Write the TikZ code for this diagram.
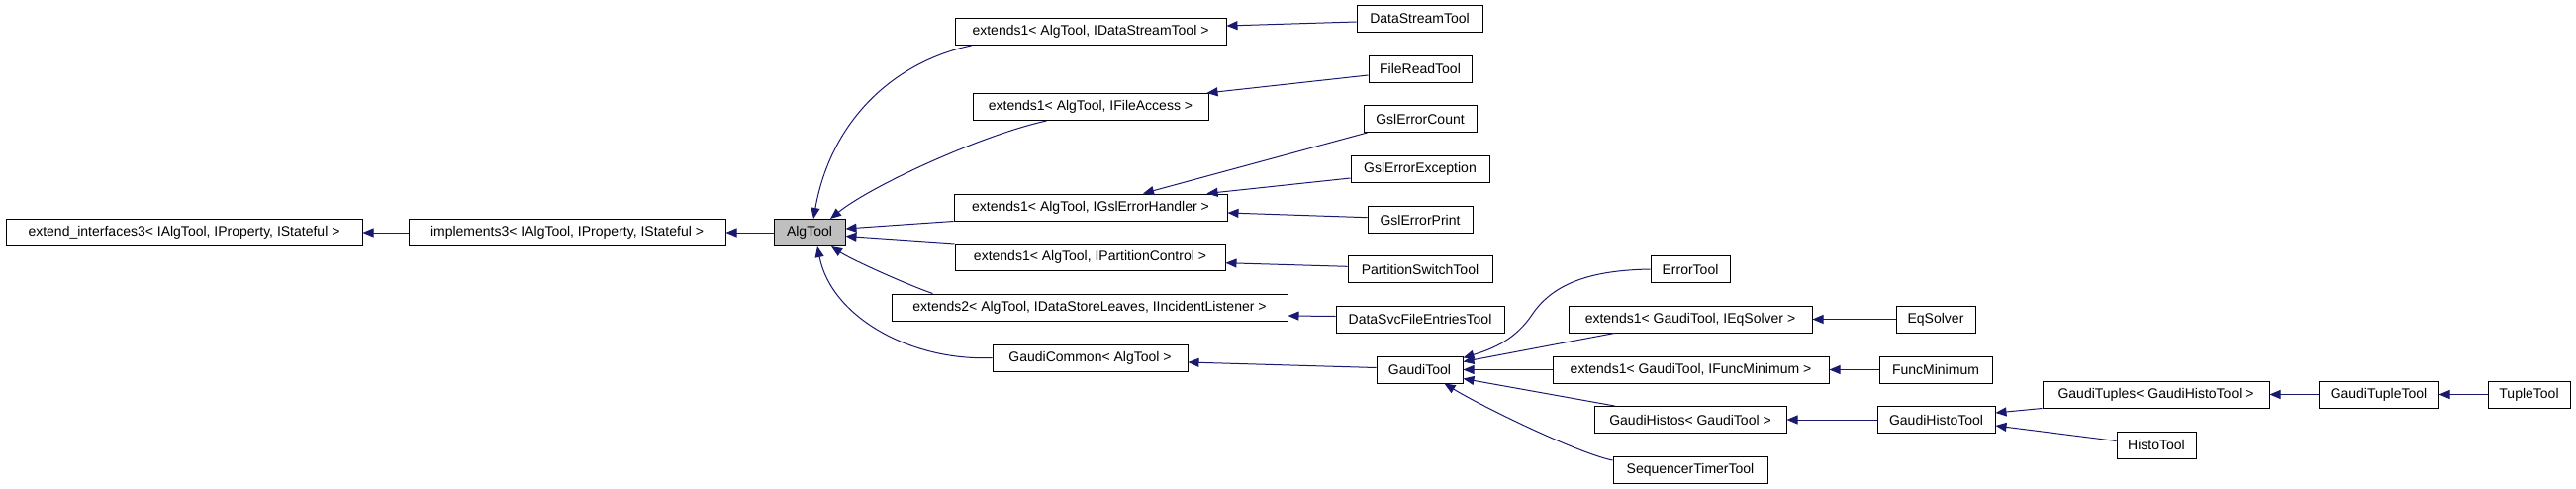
\documentclass[tikz,border=0pt]{standalone}
\usepackage{fontspec}
\setmainfont{Liberation Sans}
\usetikzlibrary{arrows.meta,calc}
\definecolor{navyedge}{HTML}{191970}
\definecolor{basegray}{HTML}{BFBFBF}

\begin{document}
\begin{tikzpicture}[x=1pt,y=-1pt,
    cls/.style={draw=black, line width=1pt, minimum width=#1, minimum height=27pt,
      inner sep=0pt, font=\fontsize{14}{16}\selectfont},
    inh/.style={draw=navyedge, line width=1pt, -{Triangle[length=11pt,width=9pt]}}]
  \useasboundingbox (0,0) rectangle (2603,493);

  \node[cls=360pt] (extint) at (186,235) {extend\_interfaces3< IAlgTool, IProperty, IStateful >};
  \node[cls=320pt] (impl) at (573,235) {implements3< IAlgTool, IProperty, IStateful >};
  \node[cls=72pt, fill=basegray] (AlgTool) at (818,235) {AlgTool};

  \node[cls=274pt] (extDS) at (1102,32) {extends1< AlgTool, IDataStreamTool >};
  \node[cls=238pt] (extFA) at (1102,108) {extends1< AlgTool, IFileAccess >};
  \node[cls=276pt] (extGsl) at (1102,209.5) {extends1< AlgTool, IGslErrorHandler >};
  \node[cls=273pt] (extPC) at (1101.5,260) {extends1< AlgTool, IPartitionControl >};
  \node[cls=400pt] (extends2) at (1101,310.5) {extends2< AlgTool, IDataStoreLeaves, IIncidentListener >};
  \node[cls=197pt] (GaudiCommon) at (1101.5,361.5) {GaudiCommon< AlgTool >};

  \node[cls=127pt] (DataStreamTool) at (1434.5,18.5) {DataStreamTool};
  \node[cls=104pt] (FileReadTool) at (1435,69.5) {FileReadTool};
  \node[cls=114pt] (GslErrorCount) at (1435,120) {GslErrorCount};
  \node[cls=140pt] (GslErrorException) at (1435,170.5) {GslErrorException};
  \node[cls=106pt] (GslErrorPrint) at (1435,222) {GslErrorPrint};
  \node[cls=146pt] (PartitionSwitchTool) at (1435,272) {PartitionSwitchTool};
  \node[cls=170pt] (DataSvcFileEntriesTool) at (1435,322.5) {DataSvcFileEntriesTool};
  \node[cls=87pt] (GaudiTool) at (1434.5,373.5) {GaudiTool};

  \node[cls=80pt] (ErrorTool) at (1708,272) {ErrorTool};
  \node[cls=246pt] (extEq) at (1708,322.5) {extends1< GaudiTool, IEqSolver >};
  \node[cls=279pt] (extFM) at (1708.5,373.5) {extends1< GaudiTool, IFuncMinimum >};
  \node[cls=194pt] (GaudiHistos) at (1708,424) {GaudiHistos< GaudiTool >};
  \node[cls=156pt] (SequencerTimerTool) at (1708,474.5) {SequencerTimerTool};

  \node[cls=80pt] (EqSolver) at (1956,322.5) {EqSolver};
  \node[cls=114pt] (FuncMinimum) at (1956,373.5) {FuncMinimum};
  \node[cls=119pt] (GaudiHistoTool) at (1956.5,424) {GaudiHistoTool};
  \node[cls=229pt] (GaudiTuples) at (2178.5,398.5) {GaudiTuples< GaudiHistoTool >};
  \node[cls=80pt] (HistoTool) at (2179,449.5) {HistoTool};
  \node[cls=121pt] (GaudiTupleTool) at (2403.5,398.5) {GaudiTupleTool};
  \node[cls=83pt] (TupleTool) at (2555.5,398.5) {TupleTool};

  % left chain
  \draw[inh] (impl) -- (extint);
  \draw[inh] (AlgTool) -- (impl);

  % direct children of AlgTool
  \draw[inh] ($(extDS.south west)+(17,0)$) .. controls (905,62) and (840,120) .. ($(AlgTool.north)+(4,0)$);
  \draw[inh] ($(extFA.south west)+(75,0)$) .. controls (990,137) and (880,188) .. ($(AlgTool.north)+(21,0)$);
  \draw[inh] (extGsl.south west) -- ($(AlgTool.east)+(0,-4)$);
  \draw[inh] (extPC.north west) -- ($(AlgTool.east)+(0,3.5)$);
  \draw[inh] ($(extends2.north west)+(42,0)$) .. controls (915,287) and (860,262) .. ($(AlgTool.south)+(22,0)$);
  \draw[inh] (GaudiCommon.west) .. controls (920,365) and (840,320) .. ($(AlgTool.south)+(8,0)$);

  \draw[inh] ($(DataStreamTool.west)+(0,3.5)$) -- ($(extDS.east)+(0,-6)$);
  \draw[inh] ($(FileReadTool.west)+(0,6.5)$) -- ($(extFA.north east)+(-2,0)$);
  \draw[inh] ($(GslErrorCount.south west)+(4,0)$) -- ($(extGsl.north)+(53,0)$);
  \draw[inh] ($(GslErrorException.west)+(0,9.5)$) -- ($(extGsl.north east)+(-21,0)$);
  \draw[inh] ($(GslErrorPrint.west)+(0,-2.3)$) -- ($(extGsl.east)+(0,5.5)$);
  \draw[inh] ($(PartitionSwitchTool.west)+(0,-2.7)$) -- ($(extPC.east)+(0,5.7)$);
  \draw[inh] ($(DataSvcFileEntriesTool.west)+(0,-3)$) -- ($(extends2.east)+(0,8.5)$);
  \draw[inh] ($(GaudiTool.west)+(0,-2)$) -- ($(GaudiCommon.east)+(0,4.5)$);

  % GaudiTool branch
  \draw[inh] (ErrorTool.west) .. controls (1610,273) and (1570,285) .. (1548,318)
    .. controls (1532,342) and (1510,352) .. ($(GaudiTool.east)+(0,-12)$);
  \draw[inh] ($(extEq.south west)+(47,0)$) -- ($(GaudiTool.east)+(0,-8)$);
  \draw[inh] (extFM) -- (GaudiTool);
  \draw[inh] ($(GaudiHistos.north west)+(21,0)$) -- ($(GaudiTool.east)+(0,9)$);
  \draw[inh] ($(SequencerTimerTool.west)+(0,-9.5)$) .. controls (1595,458) and (1500,412) .. ($(GaudiTool.south)+(25,0)$);

  \draw[inh] (EqSolver) -- (extEq);
  \draw[inh] (FuncMinimum) -- (extFM);
  \draw[inh] (GaudiHistoTool) -- (GaudiHistos);
  \draw[inh] (GaudiTuples.south west) -- ($(GaudiHistoTool.east)+(0,-7)$);
  \draw[inh] ($(HistoTool.west)+(0,-4)$) -- ($(GaudiHistoTool.east)+(0,6)$);
  \draw[inh] (GaudiTupleTool) -- (GaudiTuples);
  \draw[inh] (TupleTool) -- (GaudiTupleTool);
\end{tikzpicture}
\end{document}
